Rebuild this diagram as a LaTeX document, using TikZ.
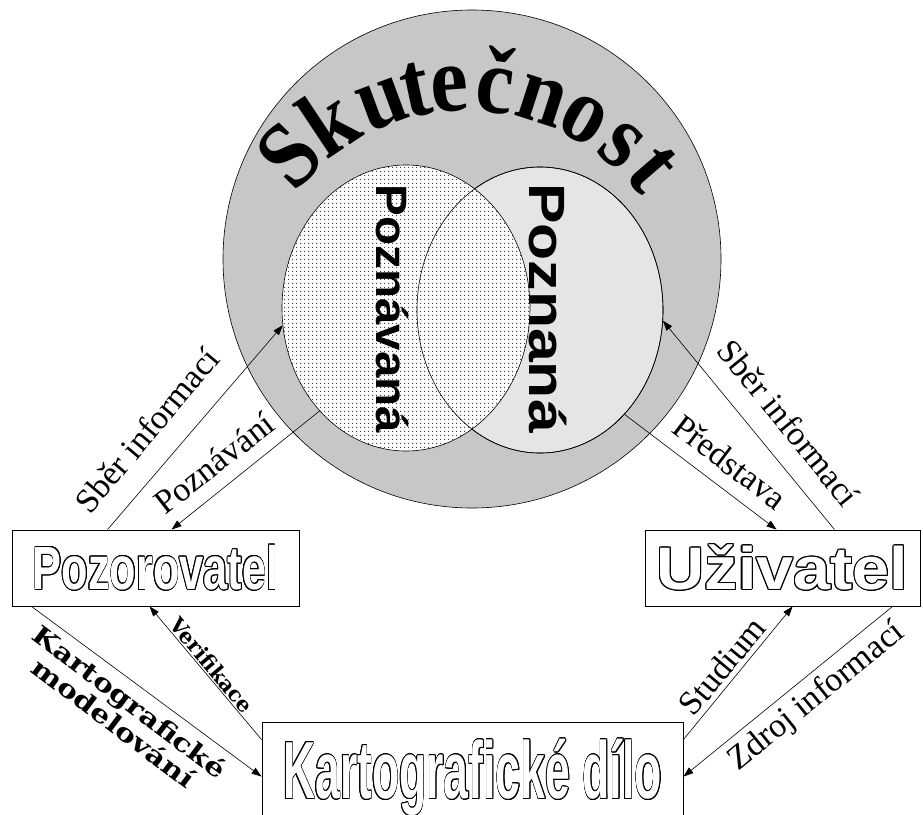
\documentclass[tikz,border=0pt]{standalone}
\usepackage{fontspec}
\usepackage{graphicx}
\setmainfont{Liberation Serif}
\newfontfamily\sansf{Liberation Sans}
\newfontfamily\dejaserif{DejaVu Serif}
\usepackage{contour}
\contourlength{1pt}
\usetikzlibrary{arrows.meta,patterns,shapes.geometric}
\pgfdeclarepatternformonly{sparsedots}{\pgfpointorigin}{\pgfpoint{4.3pt}{4.3pt}}{\pgfpoint{4.3pt}{4.3pt}}{\pgfpathcircle{\pgfpoint{2pt}{2pt}}{0.6pt}\pgfusepath{fill}}
\begin{document}
\begin{tikzpicture}[x=1pt,y=-1pt,
  conn/.style={line width=0.6pt,-{Triangle[length=10pt,width=7pt]}},
  box/.style={draw,line width=0.9pt,rectangle,inner sep=0pt,text=white},
  lab/.style={font=\fontsize{34pt}{40pt}\selectfont,inner sep=0pt},
  labw/.style={font=\dejaserif\bfseries\fontsize{21pt}{26pt}\selectfont,inner sep=0pt},
  skl/.style={font=\bfseries\fontsize{94pt}{94pt}\selectfont,inner sep=0pt,anchor=base},
  vtxt/.style={font=\sansf\bfseries,inner sep=0pt,rotate=-90}]
\useasboundingbox (0,0) rectangle (923,814);
% outer circle
\node[circle,draw,fill=gray!44,minimum size=498pt,inner sep=0pt,line width=0.6pt] (sk) at (472,259) {};
% inner ellipses
\node[ellipse,draw,fill=gray!20,minimum width=246pt,minimum height=286pt,inner sep=0pt,line width=0.6pt] (re) at (540,310) {};
\node[ellipse,preaction={fill=white},pattern=sparsedots,minimum width=248pt,minimum height=286pt,inner sep=0pt] (le) at (406,308) {};
\draw[line width=0.6pt] (le.center) ellipse [x radius=124pt,y radius=143pt];
\draw[line width=0.6pt] (re.center) ellipse [x radius=123pt,y radius=143pt];
% curved title
\coordinate (tc) at (467,330);
\foreach \a/\l [count=\i] in {135.5/S,123.6/k,110.3/u,102.0/t,94.1/e,83.3/č,72.0/n,61.1/o,50.1/s,40.9/t}
  \path (tc) ++(\a:219pt) node[skl,rotate=\a-90] (skl\i) {\scalebox{0.9}[1]{\l}};
% vertical texts
\node[vtxt,font=\sansf\bfseries\fontsize{44pt}{44pt}\selectfont] (pv) at (392,309) {\scalebox{1.08}[1]{Poznávaná}};
\node[vtxt,font=\sansf\bfseries\fontsize{51pt}{51pt}\selectfont] (pn) at (548,308) {\scalebox{1.19}[1]{Poznaná}};
% boxes
\node[box,minimum width=287pt,minimum height=76pt,font=\sansf\bfseries\fontsize{61pt}{61pt}\selectfont] (poz) at (155.5,568) {\scalebox{0.71}[1]{\contour{black}{Pozorovatel}}};
\node[box,minimum width=275pt,minimum height=76pt,font=\sansf\bfseries\fontsize{60pt}{60pt}\selectfont] (uz) at (782.5,568) {\scalebox{1.11}[1]{\contour{black}{Uživatel}}};
\node[box,minimum width=421pt,minimum height=112pt,font=\sansf\bfseries\fontsize{81pt}{81pt}\selectfont] (kd) at (472.5,778) {\scalebox{0.55}[1]{\contour{black}{Kartografické dílo}}};
% connectors
\draw[conn] ([xshift=96pt]poz.north west) -- (le.188);
\draw[conn] (le.230) -- ([xshift=160pt]poz.north west);
\draw[conn] ([xshift=190pt]uz.north west) -- (re.-5);
\draw[conn] (re.-51) -- ([xshift=132pt]uz.north west);
\draw[conn] ([xshift=20pt]poz.south west) -- ([yshift=-55pt]kd.north west);
\draw[conn] ([yshift=-18pt]kd.north west) -- ([xshift=138pt]poz.south west);
\draw[conn] ([yshift=-18pt]kd.north east) -- ([xshift=148pt]uz.south west);
\draw[conn] ([xshift=248pt]uz.south west) -- ([yshift=-55pt]kd.north east);
% labels
\node[lab,rotate=50] (l1) at (147,430) {Sběr informací};
\node[lab,rotate=38] (l2) at (214,463) {Poznávání};
\node[lab,rotate=-51] (l3) at (789,423) {Sběr informací};
\node[lab,rotate=-37] (l4) at (730,462) {Představa};
\node[labw,font=\dejaserif\bfseries\fontsize{25pt}{25pt}\selectfont,rotate=-37,align=center] (l5) at (122,712) {\scalebox{1.22}[1]{Kartografické}\\\scalebox{1.22}[1]{modelování}};
\node[labw,rotate=-50] (l6) at (212,665) {Verifikace};
\node[lab,rotate=50] (l7) at (722,666) {Studium};
\node[lab,rotate=39] (l8) at (817,697) {Zdroj informací};
\end{tikzpicture}
\end{document}
